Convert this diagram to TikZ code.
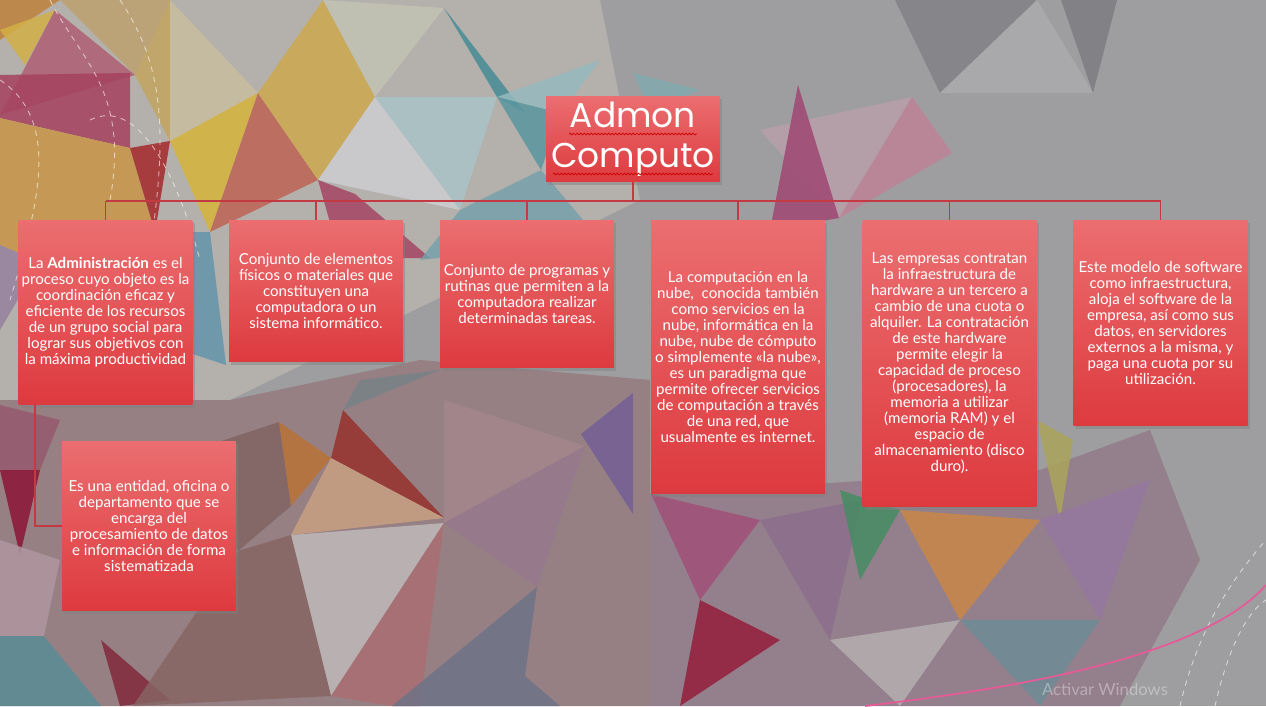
\documentclass[tikz,border=0pt]{standalone}
\usepackage{fontspec}
\setmainfont{Lato}
\newfontfamily\titlefont{Poppins}
\usetikzlibrary{shadows,decorations.pathmorphing}

\definecolor{boxtop}{RGB}{235,110,112}
\definecolor{boxbot}{RGB}{221,58,62}
\definecolor{linkred}{RGB}{196,58,66}
\definecolor{bggray}{RGB}{158,158,160}

\begin{document}
\begin{tikzpicture}[x=0.02cm, y=-0.02cm,
  card/.style={top color=boxtop, bottom color=boxbot, draw=none, text=white,
               minimum width=3.48cm, align=center, inner sep=1pt,
               font=\fontsize{8.6}{9.1}\selectfont,
               drop shadow={shadow xshift=1.2pt, shadow yshift=-1.5pt, opacity=0.45}},
  conn/.style={draw=linkred, line width=0.9pt},
  tri/.style={fill opacity=0.85},
  deco/.style={white, dashed, line width=0.5pt, opacity=0.6},
  squig/.style={red!80!black, line width=0.4pt, decorate,
                decoration={snake, amplitude=0.5pt, segment length=2pt}},
]
  \useasboundingbox (0,0) rectangle (1266,706);

  % background
  \fill[bggray] (0,0) rectangle (1266,706);
  \fill[color={rgb,255:red,180;green,176;blue,172}] (0,0) -- (600,0) -- (640,200) -- (230,400) -- (0,400) -- cycle;
  \fill[color={rgb,255:red,150;green,128;blue,132}] (0,400) -- (230,400) -- (420,360) -- (650,380) -- (650,706) -- (0,706) -- cycle;
  \fill[color={rgb,255:red,148;green,128;blue,140}] (650,494) -- (1040,470) -- (1150,430) -- (1200,560) -- (1120,706) -- (650,706) -- cycle;
  \fill[tri, fill={rgb,255:red,190;green,130;blue,60}]  (0,0) -- (60,0) -- (0,40) -- cycle;
  \fill[tri, fill={rgb,255:red,210;green,175;blue,70}]  (0,30) -- (55,10) -- (25,65) -- cycle;
  \fill[tri, fill={rgb,255:red,190;green,160;blue,110}] (60,0) -- (170,0) -- (135,75) -- cycle;
  \fill[tri, fill={rgb,255:red,175;green,95;blue,115}]  (55,10) -- (135,75) -- (0,115) -- cycle;
  \fill[tri, fill={rgb,255:red,165;green,65;blue,95}]   (0,75) -- (130,73) -- (130,148) -- (0,118) -- cycle;
  \fill[tri, fill={rgb,255:red,200;green,150;blue,70}]  (0,118) -- (130,148) -- (155,232) -- (40,262) -- (0,245) -- cycle;
  \fill[tri, fill={rgb,255:red,165;green,40;blue,45}]   (130,148) -- (170,141) -- (155,232) -- cycle;
  \fill[tri, fill={rgb,255:red,195;green,165;blue,95}]  (135,75) -- (170,0) -- (170,141) -- cycle;
  \fill[tri, fill={rgb,255:red,200;green,190;blue,160}] (170,0) -- (258,93) -- (170,141) -- cycle;
  \fill[tri, fill={rgb,255:red,215;green,180;blue,60}]  (170,141) -- (258,93) -- (210,232) -- cycle;
  \fill[tri, fill={rgb,255:red,190;green,100;blue,85}]  (258,93) -- (318,180) -- (210,232) -- cycle;
  \fill[tri, fill={rgb,255:red,205;green,170;blue,80}]  (258,93) -- (323,0) -- (375,97) -- (318,180) -- cycle;
  \fill[tri, fill={rgb,255:red,195;green,195;blue,180}] (323,0) -- (444,8) -- (375,97) -- cycle;
  \fill[tri, fill={rgb,255:red,205;green,205;blue,208}] (375,97) -- (460,210) -- (318,180) -- cycle;
  \fill[tri, fill={rgb,255:red,165;green,70;blue,100}]  (318,180) -- (355,194) -- (430,258) -- (340,258) -- cycle;
  \fill[tri, fill={rgb,255:red,170;green,195;blue,200}] (375,97) -- (497,97) -- (460,210) -- cycle;
  \fill[tri, fill={rgb,255:red,70;green,140;blue,150}]  (444,8) -- (497,97) -- (525,113) -- cycle;
  \fill[tri, fill={rgb,255:red,90;green,150;blue,160}]  (497,97) -- (561,113) -- (541,170) -- cycle;
  \fill[tri, fill={rgb,255:red,150;green,185;blue,190}] (497,97) -- (600,60) -- (561,113) -- cycle;
  \fill[tri, fill={rgb,255:red,100;green,150;blue,170}] (155,232) -- (210,232) -- (226,365) -- (120,330) -- cycle;
  \fill[tri, fill={rgb,255:red,120;green,160;blue,170}] (460,210) -- (541,170) -- (600,240) -- (420,260) -- cycle;
  \fill[tri, fill={rgb,255:red,150;green,130;blue,160}] (0,245) -- (40,262) -- (0,330) -- cycle;
  \fill[tri, fill={rgb,255:red,130;green,170;blue,175}] (633,73) -- (700,90) -- (650,110) -- cycle;
  \fill[tri, fill={rgb,255:red,185;green,160;blue,170}] (760,130) -- (912,97) -- (839,218) -- cycle;
  \fill[tri, fill={rgb,255:red,160;green,70;blue,115}]  (798,85) -- (839,218) -- (770,230) -- cycle;
  \fill[tri, fill={rgb,255:red,190;green,130;blue,150}] (839,218) -- (912,97) -- (952,153) -- cycle;
  \fill[tri, fill={rgb,255:red,130;green,130;blue,135}] (895,0) -- (940,93) -- (1037,0) -- cycle;
  \fill[tri, fill={rgb,255:red,172;green,172;blue,174}] (940,93) -- (1037,0) -- (1093,93) -- cycle;
  \fill[tri, fill={rgb,255:red,125;green,125;blue,130}] (1061,0) -- (1093,93) -- (1117,0) -- cycle;
  \fill[tri, fill={rgb,255:red,150;green,90;blue,110}]  (0,405) -- (60,420) -- (40,470) -- (0,470) -- cycle;
  \fill[tri, fill={rgb,255:red,140;green,20;blue,55}]   (0,470) -- (40,470) -- (20,555) -- cycle;
  \fill[tri, fill={rgb,255:red,175;green,150;blue,160}] (0,540) -- (60,560) -- (44,636) -- (0,636) -- cycle;
  \fill[tri, fill={rgb,255:red,90;green,140;blue,150}]  (0,636) -- (44,636) -- (101,706) -- (0,706) -- cycle;
  \fill[tri, fill={rgb,255:red,130;green,40;blue,60}]   (101,640) -- (170,700) -- (120,706) -- cycle;
  \fill[tri, fill={rgb,255:red,120;green,130;blue,135}] (360,380) -- (440,370) -- (343,410) -- cycle;
  \fill[tri, fill={rgb,255:red,130;green,100;blue,100}] (182,454) -- (279,422) -- (291,506) -- (238,551) -- cycle;
  \fill[tri, fill={rgb,255:red,185;green,115;blue,55}]  (279,422) -- (331,458) -- (291,506) -- cycle;
  \fill[tri, fill={rgb,255:red,150;green,50;blue,45}]   (343,410) -- (331,458) -- (444,518) -- cycle;
  \fill[tri, fill={rgb,255:red,200;green,160;blue,130}] (331,458) -- (444,518) -- (291,535) -- cycle;
  \fill[tri, fill={rgb,255:red,190;green,185;blue,185}] (291,535) -- (444,523) -- (331,696) -- cycle;
  \fill[tri, fill={rgb,255:red,170;green,110;blue,115}] (444,523) -- (331,696) -- (392,706) -- (420,706) -- cycle;
  \fill[tri, fill={rgb,255:red,135;green,100;blue,100}] (238,551) -- (291,535) -- (331,696) -- (133,706) -- cycle;
  \fill[tri, fill={rgb,255:red,165;green,135;blue,140}] (444,400) -- (585,446) -- (444,523) -- cycle;
  \fill[tri, fill={rgb,255:red,115;green,95;blue,150}]  (581,434) -- (633,393) -- (633,514) -- cycle;
  \fill[tri, fill={rgb,255:red,150;green,120;blue,140}] (444,523) -- (585,446) -- (537,587) -- cycle;
  \fill[tri, fill={rgb,255:red,110;green,115;blue,135}] (392,706) -- (537,587) -- (525,676) -- (560,706) -- cycle;
  \fill[tri, fill={rgb,255:red,160;green,80;blue,120}]  (651,494) -- (760,520) -- (700,600) -- cycle;
  \fill[tri, fill={rgb,255:red,150;green,30;blue,60}]   (700,600) -- (780,640) -- (680,706) -- cycle;
  \fill[tri, fill={rgb,255:red,140;green,110;blue,140}] (760,520) -- (862,500) -- (830,640) -- cycle;
  \fill[tri, fill={rgb,255:red,70;green,140;blue,100}]  (840,490) -- (900,510) -- (860,580) -- cycle;
  \fill[tri, fill={rgb,255:red,200;green,135;blue,70}]  (900,510) -- (1040,520) -- (960,620) -- cycle;
  \fill[tri, fill={rgb,255:red,170;green,165;blue,90}]  (1037,420) -- (1073,440) -- (1060,520) -- cycle;
  \fill[tri, fill={rgb,255:red,150;green,120;blue,160}] (1040,520) -- (1150,480) -- (1100,620) -- cycle;
  \fill[tri, fill={rgb,255:red,110;green,140;blue,150}] (960,620) -- (1100,620) -- (1040,706) -- cycle;
  \fill[tri, fill={rgb,255:red,180;green,175;blue,175}] (830,640) -- (960,620) -- (900,706) -- cycle;

  % dashed swirls
  \draw[deco] (0,80) .. controls (60,120) and (40,200) .. (10,300);
  \draw[deco] (50,0) .. controls (80,60) and (130,90) .. (110,200);
  \draw[deco] (120,0) .. controls (160,60) and (170,120) .. (150,250);
  \draw[deco] (90,120) .. controls (130,100) and (170,150) .. (200,260);
  \draw[deco] (1180,706) .. controls (1200,620) and (1240,570) .. (1266,540);
  \draw[deco] (1215,706) .. controls (1230,640) and (1250,610) .. (1266,600);
  \draw[line width=1pt, color={rgb,255:red,230;green,90;blue,150}]
    (865,706) .. controls (1000,690) and (1200,660) .. (1266,585);

  % boxes
  \node[card, minimum height=1.72cm, inner sep=0pt,
        font=\titlefont\fontsize{19.6}{22.8}\selectfont] (root) at (633,139) {Admon\\Computo};
  \node[card, minimum height=3.70cm] (b1) at (105.5,312.5)
    {La \textbf{Administración} es el\\proceso cuyo objeto es la\\coordinación eficaz y\\eficiente de los recursos\\de un grupo social para\\lograr sus objetivos con\\la máxima productividad};
  \node[card, minimum height=2.84cm] (b2) at (316,291)
    {Conjunto de elementos\\físicos o materiales que\\constituyen una\\computadora o un\\sistema informático.};
  \node[card, minimum height=2.96cm] (b3) at (527,294)
    {Conjunto de programas y\\rutinas que permiten a la\\computadora realizar\\determinadas tareas.};
  \node[card, minimum height=5.48cm] (b4) at (738,357)
    {La computación en la\\nube,\ \ conocida también\\como servicios en la\\nube, informática en la\\nube, nube de cómputo\\o simplemente «la nube»,\\es un paradigma que\\permite ofrecer servicios\\de computación a través\\de una red, que\\usualmente es internet.};
  \node[card, minimum height=5.74cm] (b5) at (949.5,363.5)
    {Las empresas contratan\\la infraestructura de\\hardware a un tercero a\\cambio de una cuota o\\alquiler. La contratación\\de este hardware\\permite elegir la\\capacidad de proceso\\(procesadores), la\\memoria a utilizar\\(memoria RAM) y el\\espacio de\\almacenamiento (disco\\duro).};
  \node[card, minimum height=4.12cm] (b6) at (1160.5,323)
    {Este modelo de software\\como infraestructura,\\aloja el software de la\\empresa, así como sus\\datos, en servidores\\externos a la misma, y\\paga una cuota por su\\utilización.};
  \node[card, minimum height=3.40cm] (b7) at (149,526)
    {Es una entidad, oficina o\\departamento que se\\encarga del\\procesamiento de datos\\e información de forma\\sistematizada};

  % spell-check squiggles
  \draw[squig] (569,134) -- (697,134);
  \draw[squig] (553,174) -- (713,174);

  % connectors
  \coordinate (bus) at (633,201);
  \draw[conn] (root.south) -- (bus);
  \draw[conn] (b1.north |- bus) -- (b6.north |- bus);
  \foreach \i in {1,...,6}
    \draw[conn] (b\i.north |- bus) -- (b\i.north);
  \draw[conn] (b1.south west) ++(17,0) |- (b7.west);

  \node[text=white, opacity=0.35, font=\fontsize{9.5}{11}\selectfont] (mark) at (1105,689) {Activar Windows};
\end{tikzpicture}
\end{document}
